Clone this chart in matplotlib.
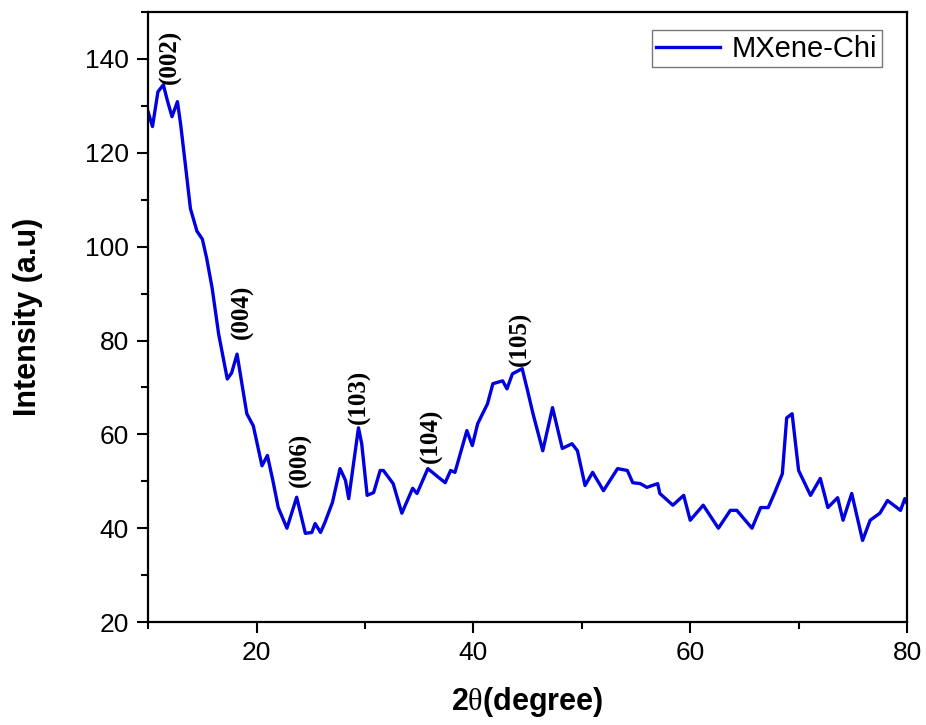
"""XRD pattern of MXene-Chi with indexed reflections."""

import matplotlib
matplotlib.use("Agg")
import matplotlib.pyplot as plt
from matplotlib.ticker import MultipleLocator

plt.rcParams["font.family"] = ["Liberation Sans", "DejaVu Sans"]
plt.rcParams["mathtext.fontset"] = "custom"
plt.rcParams["mathtext.rm"] = "Liberation Serif"

# 2-theta (degree) and intensity (a.u.)
two_theta = [
    10.0, 10.4, 10.9, 11.4, 11.8, 12.2, 12.7, 13.0, 13.4, 13.9, 14.5, 15.0,
    15.4, 15.9, 16.5, 17.3, 17.7, 18.2, 19.1, 19.7, 20.5, 21.0, 21.5, 22.0,
    22.8, 23.7, 24.5, 25.1, 25.4, 25.9, 26.3, 27.0, 27.7, 28.2, 28.5, 29.4,
    29.7, 30.2, 30.8, 31.4, 31.7, 32.6, 33.4, 34.4, 34.8, 35.8, 36.8, 37.4,
    37.9, 38.3, 39.4, 39.9, 40.4, 41.3, 41.8, 42.7, 43.1, 43.6, 44.5, 45.0,
    45.5, 46.4, 47.3, 48.2, 49.1, 49.6, 50.3, 51.0, 52.0, 53.3, 54.2, 54.7,
    55.4, 56.0, 57.0, 57.2, 58.4, 59.4, 60.0, 61.2, 62.6, 63.7, 64.3, 65.7,
    66.5, 67.2, 67.8, 68.5, 68.9, 69.4, 70.0, 71.1, 72.0, 72.7, 73.6, 74.1,
    74.9, 75.9, 76.6, 77.5, 78.2, 79.4, 79.8, 80.0,
]
intensity = [
    128.7, 125.6, 133.0, 134.5, 130.9, 127.7, 130.9, 126.0, 118.1, 108.1,
    103.3, 101.6, 97.5, 91.2, 81.4, 71.8, 73.1, 77.1, 64.4, 61.8, 53.3, 55.5,
    50.2, 44.4, 40.0, 46.6, 38.9, 39.1, 41.0, 39.1, 41.2, 45.5, 52.7, 50.2,
    46.3, 61.4, 58.0, 47.0, 47.6, 52.3, 52.3, 49.5, 43.2, 48.5, 47.4, 52.7,
    50.8, 49.7, 52.3, 51.9, 60.8, 57.6, 62.3, 66.5, 70.8, 71.4, 69.7, 72.9,
    74.0, 69.3, 64.4, 56.5, 65.7, 57.0, 58.0, 56.5, 49.1, 51.9, 48.0, 52.7,
    52.3, 49.7, 49.5, 48.7, 49.5, 47.4, 44.9, 47.0, 41.7, 44.9, 40.0, 43.8,
    43.8, 40.0, 44.4, 44.4, 47.6, 51.6, 63.5, 64.4, 52.3, 47.0, 50.6, 44.4,
    46.5, 41.7, 47.4, 37.4, 41.7, 43.2, 45.9, 43.8, 46.3, 45.3,
]

# Miller indices and their label anchors
peak_labels = ["(002)", "(004)", "(006)", "(103)", "(104)", "(105)"]
peak_x = [12.0, 18.7, 24.0, 29.5, 36.1, 44.3]
peak_y = [134.7, 80.3, 48.7, 62.3, 54.0, 74.6]

fig = plt.figure(figsize=(9.26, 7.25), dpi=100)
ax = fig.add_axes([0.160, 0.142, 0.8195, 0.8414])

ax.plot(two_theta, intensity, color="#0000e0", linewidth=2.4, label="MXene-Chi")

for lab, px, py in zip(peak_labels, peak_x, peak_y):
    ax.text(px, py, lab, rotation=90, ha="center", va="bottom",
            fontsize=18, fontweight="bold",
            family=["Liberation Serif", "DejaVu Serif"])

ax.set_xlim(10, 80)
ax.set_ylim(20, 150)
ax.xaxis.set_major_locator(MultipleLocator(20))
ax.xaxis.set_minor_locator(MultipleLocator(10))
ax.yaxis.set_major_locator(MultipleLocator(20))
ax.yaxis.set_minor_locator(MultipleLocator(10))
ax.tick_params(which="major", direction="out", length=8, width=1.5,
               labelsize=19, pad=6)
ax.tick_params(which="minor", direction="out", length=5, width=1.5)
ax.tick_params(top=False, right=False)
for s in ax.spines.values():
    s.set_linewidth(1.6)

ax.set_xlabel(r"2$\mathrm{\theta}$(degree)", fontsize=22, fontweight="bold",
              labelpad=14)
ax.set_ylabel("Intensity (a.u)", fontsize=22, fontweight="bold", labelpad=30)

leg = ax.legend(loc="upper right", fontsize=21, frameon=True, fancybox=False,
                edgecolor="#555555", handlelength=2.2, handletextpad=0.4,
                borderpad=0.15, borderaxespad=0.0,
                bbox_to_anchor=(0.967, 0.97))
leg.get_frame().set_linewidth(1.0)

fig.savefig("out.png", dpi=100)
